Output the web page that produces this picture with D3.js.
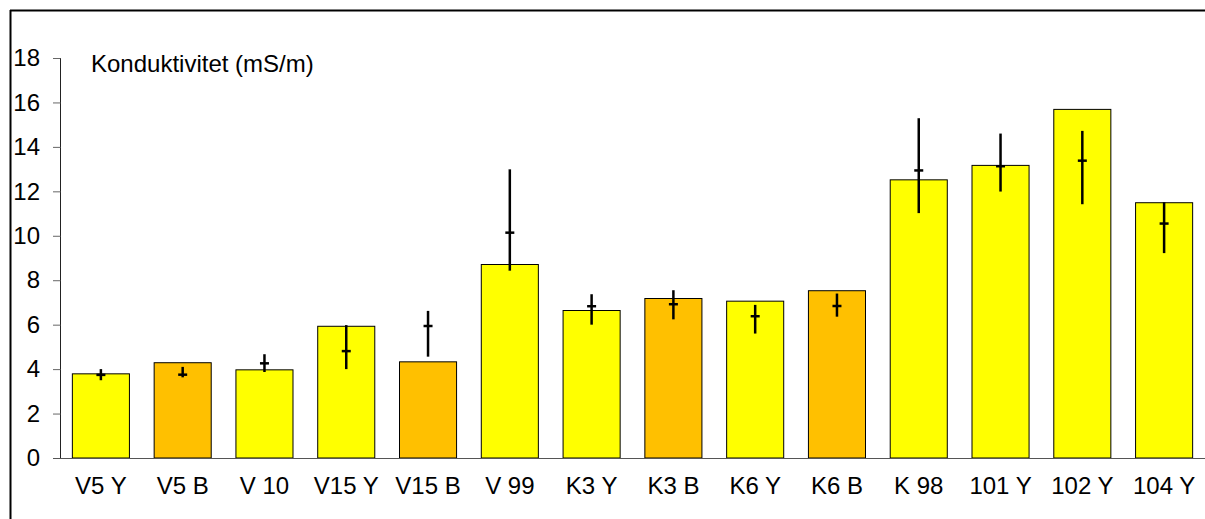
<!DOCTYPE html>
<html>
<head>
<meta charset="utf-8">
<script src="https://cdn.jsdelivr.net/npm/d3@7"></script>
<style>
  html, body { margin: 0; padding: 0; background: #fff; }
  svg { display: block; font-family: "Liberation Sans", Arial, sans-serif; }
</style>
</head>
<body>
<svg id="chart" width="1205" height="519"></svg>
<script>
const categories = ["V5 Y", "V5 B", "V 10", "V15 Y", "V15 B", "V 99", "K3 Y", "K3 B", "K6 Y", "K6 B", "K 98", "101 Y", "102 Y", "104 Y"];
const barValues  = [3.81, 4.31, 3.99, 5.95, 4.35, 8.73, 6.66, 7.20, 7.08, 7.55, 12.54, 13.19, 15.71, 11.51];
const markValues = [3.74, 3.75, 4.26, 4.81, 5.94, 10.14, 6.83, 6.92, 6.38, 6.84, 12.94, 13.13, 13.38, 10.55];
const errLow     = [3.50, 3.63, 3.87, 4.00, 4.56, 8.43, 6.00, 6.24, 5.60, 6.36, 11.02, 11.99, 11.42, 9.22];
const errHigh    = [4.00, 4.10, 4.67, 5.98, 6.62, 12.99, 7.37, 7.55, 6.89, 7.40, 15.29, 14.60, 14.72, 11.51];
const barGroup   = ["Y", "B", "Y", "Y", "B", "Y", "Y", "B", "Y", "B", "Y", "Y", "Y", "Y"];
const yTicks     = [0, 2, 4, 6, 8, 10, 12, 14, 16, 18];
const title      = "Konduktivitet (mS/m)";

const colors = { Y: "#FFFF00", B: "#FFC000" };
const fontSize = 24;

const svg = d3.select("#chart");

// outer frame (top and left)
svg.append("line").attr("x1", 10).attr("x2", 1205).attr("y1", 10.5).attr("y2", 10.5)
  .attr("stroke", "#000").attr("stroke-width", 2);
svg.append("line").attr("x1", 10.5).attr("x2", 10.5).attr("y1", 10).attr("y2", 519)
  .attr("stroke", "#000").attr("stroke-width", 2);

const x = d3.scaleBand().domain(categories).range([60, 1205])
  .paddingInner(0.29).paddingOuter(0.145);
const y = d3.scaleLinear().domain([0, 18]).range([458, 58]);

// y axis
const yAxis = svg.append("g").attr("transform", "translate(60,0)")
  .call(d3.axisLeft(y).tickValues(yTicks).tickSize(7).tickPadding(13));
yAxis.attr("font-size", fontSize).attr("font-family", "Liberation Sans, Arial, sans-serif");
yAxis.select(".domain").attr("stroke", "#222").attr("d", `M0.5,${y(18)}V${y(0)}`);
yAxis.selectAll(".tick line").attr("stroke", "#666").attr("x1", 0.5);
yAxis.selectAll(".tick text").attr("fill", "#000");

// bars
svg.append("g").selectAll("rect").data(categories).join("rect")
  .attr("x", d => x(d) + 0.5)
  .attr("y", (d, i) => y(barValues[i]) + 0.5)
  .attr("width", x.bandwidth() - 1)
  .attr("height", (d, i) => y(0) - y(barValues[i]) - 0.5)
  .attr("fill", (d, i) => colors[barGroup[i]])
  .attr("stroke", "#000").attr("stroke-width", 1);

// x axis
const xAxis = svg.append("g").attr("transform", `translate(0,${y(0)})`)
  .call(d3.axisBottom(x).tickSize(0).tickPadding(19));
xAxis.attr("font-size", fontSize).attr("font-family", "Liberation Sans, Arial, sans-serif");
xAxis.select(".domain").attr("stroke", "#555").attr("d", `M53,0.5H1205`);
xAxis.selectAll(".tick text").attr("fill", "#000");

// error bars
const eg = svg.append("g");
eg.selectAll("line.v").data(categories).join("line").attr("class", "v")
  .attr("x1", d => x(d) + x.bandwidth() / 2).attr("x2", d => x(d) + x.bandwidth() / 2)
  .attr("y1", (d, i) => y(errHigh[i])).attr("y2", (d, i) => y(errLow[i]))
  .attr("stroke", "#000").attr("stroke-width", 2.5);
eg.selectAll("line.h").data(categories).join("line").attr("class", "h")
  .attr("x1", d => x(d) + x.bandwidth() / 2 - 4.5).attr("x2", d => x(d) + x.bandwidth() / 2 + 4.5)
  .attr("y1", (d, i) => y(markValues[i])).attr("y2", (d, i) => y(markValues[i]))
  .attr("stroke", "#000").attr("stroke-width", 2.5);

// title
svg.append("text").attr("x", 91).attr("y", 72).attr("font-size", fontSize)
  .attr("fill", "#000").text(title);
</script>
</body>
</html>
